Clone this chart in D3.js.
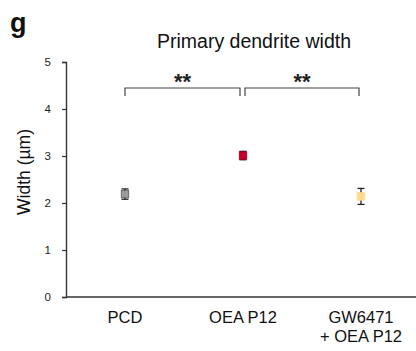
<!DOCTYPE html>
<html><head><meta charset="utf-8">
<script src="https://cdn.jsdelivr.net/npm/d3@7"></script>
<style>body{margin:0;background:#fff}svg{display:block}text{font-family:Arial,"Liberation Sans",sans-serif}</style>
</head><body>
<script>
const categories = ["PCD", "OEA P12", "GW6471\n+ OEA P12"];
const means = [2.19, 3.01, 2.14];
const errors = [0.11, 0.09, 0.17];
const colors = ["#9c9c9c", "#c4002b", "#ffd98c"];
const strokes = ["#5a5a5a", "#a00022", "#ffd98c"];
const yTicks = [0, 1, 2, 3, 4, 5];
const brackets = [{from: 0, to: 1, label: "**"}, {from: 1, to: 2, label: "**"}];

const W = 416, H = 351;
const svg = d3.select("body").append("svg").attr("width", W).attr("height", H);

const y = d3.scaleLinear().domain([0, 5]).range([297, 62]);
const x = d3.scalePoint().domain(categories).range([125, 361]);

// y axis
const yAxis = svg.append("g").attr("transform", "translate(66,0)")
  .call(d3.axisLeft(y).tickValues(yTicks).tickFormat(d3.format("d")).tickSize(4).tickPadding(11));
yAxis.select(".domain").attr("stroke", "#333").attr("stroke-width", 1.4);
yAxis.selectAll(".tick line").attr("stroke", "#333").attr("stroke-width", 1.2);
yAxis.selectAll(".tick text").attr("font-size", 11.5).attr("fill", "#222")
  .attr("font-family", "Arial, 'Liberation Sans', sans-serif");

// x axis line
svg.append("line").attr("x1", 66).attr("x2", W).attr("y1", y(0)).attr("y2", y(0))
  .attr("stroke", "#333").attr("stroke-width", 1.4);

// x labels
categories.forEach(c => {
  const lines = c.split("\n");
  const t = svg.append("text").attr("x", x(c)).attr("y", 323).attr("text-anchor", "middle")
    .attr("font-size", 16.5).attr("fill", "#111");
  lines.forEach((l, i) => t.append("tspan").attr("x", x(c)).attr("dy", i ? 19 : 0).text(l));
});

// error bars
categories.forEach((c, i) => {
  const g = svg.append("g");
  const cx = x(c);
  g.append("line").attr("x1", cx).attr("x2", cx).attr("y1", y(means[i] + errors[i])).attr("y2", y(means[i] - errors[i]))
    .attr("stroke", "#222").attr("stroke-width", 1.3);
  [means[i] + errors[i], means[i] - errors[i]].forEach(v => {
    g.append("line").attr("x1", cx - 3.5).attr("x2", cx + 3.5).attr("y1", y(v)).attr("y2", y(v))
      .attr("stroke", "#222").attr("stroke-width", 1.3);
  });
  g.append("rect").attr("x", cx - 3.75).attr("y", y(means[i]) - 3.75).attr("width", 7.5).attr("height", 7.5)
    .attr("fill", colors[i]).attr("stroke", strokes[i]).attr("stroke-width", 0.8);
});

// brackets
brackets.forEach((b, i) => {
  const x1 = x(categories[b.from]) + (i === 1 ? 2 : 0);
  const x2 = x(categories[b.to]) - (i === 0 ? 3 : 2);
  const by = 88;
  svg.append("path").attr("d", `M${x1},${by + 8}V${by}H${x2}V${by + 8}`)
    .attr("fill", "none").attr("stroke", "#444").attr("stroke-width", 1.2);
  svg.append("text").attr("x", (x1 + x2) / 2).attr("y", 89).attr("text-anchor", "middle")
    .attr("font-size", 22).attr("font-weight", "bold").attr("fill", "#222").text(b.label);
});

// title
svg.append("text").attr("x", 254).attr("y", 48).attr("text-anchor", "middle")
  .attr("font-size", 19.5).attr("fill", "#111").text("Primary dendrite width");

// panel letter
svg.append("text").attr("x", 10).attr("y", 32).attr("font-size", 27).attr("font-weight", "bold")
  .attr("fill", "#111").text("g");

// y label
svg.append("text").attr("transform", "translate(30,172) rotate(-90)").attr("text-anchor", "middle")
  .attr("font-size", 17.5).attr("fill", "#111").text("Width (µm)");
</script>
</body></html>
